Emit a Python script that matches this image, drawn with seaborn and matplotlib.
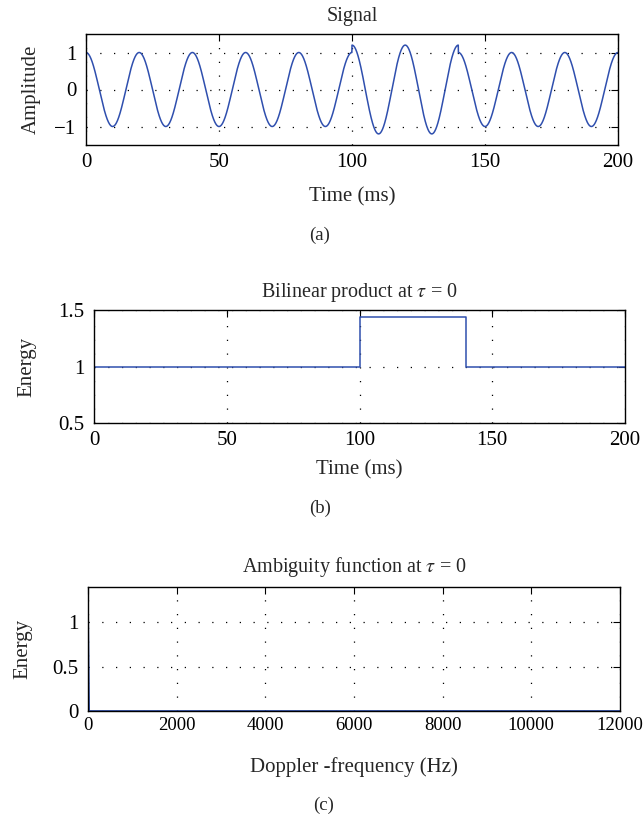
import numpy as np
import pandas as pd
import seaborn as sns
import matplotlib.pyplot as plt

# signal: a cosine of 20 ms period, amplitude per segment
signal_period_ms = 20
segment_edges_ms = [0, 100, 140, 200]
segment_amplitude = [1.0, 1.2, 1.0]

# bilinear product at tau = 0, panel (b)
energy_edges_ms = [0, 100, 140, 200]
energy_values = [1.0, 1.44, 1.0, 1.0]

# ambiguity function at tau = 0, panel (c)
doppler_hz = [0, 25, 12000]
ambiguity_energy = [1.18, 0.0, 0.0]

sns.set_style('white')
plt.rcParams['font.family'] = ['Liberation Serif', 'DejaVu Serif']
plt.rcParams['mathtext.fontset'] = 'stix'

W, H = 644, 817
BLUE = '#2f4fae'
DOT = (0, (1, 10))
FS = 15

fig = plt.figure(figsize=(W / 100, H / 100), dpi=100)


def make_axes(left, right, top, bottom):
    return fig.add_axes([left / W, 1 - bottom / H, (right - left) / W, (bottom - top) / H])


def style(ax, box, title, title_pad, xlabel, ylabel, xlab_y, ylab_x, xpad):
    left, right, top, bottom = box
    for s in ax.spines.values():
        s.set_visible(True)
        s.set_color('black')
        s.set_linewidth(1.0)
    ax.tick_params(direction='in', top=True, right=True, length=5, width=0.8,
                   labelsize=FS, colors='black')
    ax.tick_params(axis='x', pad=xpad)
    ax.tick_params(axis='y', pad=7)
    ax.grid(True, color='black', linestyle=DOT, linewidth=0.9)
    ax.set_title(title, fontsize=FS - 0.5, pad=title_pad)
    ax.set_xlabel(xlabel, fontsize=FS)
    ax.set_ylabel(ylabel, fontsize=FS)
    ax.xaxis.set_label_coords(0.5, (bottom - xlab_y) / (bottom - top))
    ax.xaxis.label.set_va('center')
    ax.yaxis.set_label_coords((ylab_x - left) / (right - left), 0.5)
    ax.yaxis.label.set_va('center')


# (a) signal
t = np.arange(0, 200.001, 0.05)
amp = np.select([t < segment_edges_ms[1], t < segment_edges_ms[2]],
                segment_amplitude[:2], segment_amplitude[2])
sig = pd.DataFrame({'t': t, 'x': amp * np.cos(2 * np.pi * t / signal_period_ms)})

box_a = (86, 618, 34, 145)
ax1 = make_axes(*box_a)
sns.lineplot(data=sig, x='t', y='x', ax=ax1, color=BLUE, linewidth=1.1,
             estimator=None, sort=False)
ax1.set_xlim(0, 200)
ax1.set_ylim(-1.5, 1.5)
ax1.set_xticks([0, 50, 100, 150, 200])
ax1.set_yticks([-1, 0, 1])
ax1.set_yticklabels(['\u22121', '0', '1'])
style(ax1, box_a, 'Signal', 9.5, 'Time (ms)', 'Amplitude', 197, 31, 5.5)

# (b) bilinear product
en = pd.DataFrame({'t': energy_edges_ms, 'e': energy_values})
box_b = (94, 625, 310, 423)
ax2 = make_axes(*box_b)
sns.lineplot(data=en, x='t', y='e', ax=ax2, color=BLUE, linewidth=1.1,
             drawstyle='steps-post', estimator=None, sort=False)
ax2.set_xlim(0, 200)
ax2.set_ylim(0.5, 1.5)
ax2.set_xticks([0, 50, 100, 150, 200])
ax2.set_yticks([0.5, 1, 1.5])
ax2.set_yticklabels(['0.5', '1', '1.5'])
style(ax2, box_b, 'Bilinear product at $\\tau$ = 0', 9, 'Time (ms)', 'Energy',
      470, 27, 5.5)

# (c) ambiguity function
amb = pd.DataFrame({'f': doppler_hz, 'a': ambiguity_energy})
box_c = (88, 620, 587, 711)
ax3 = make_axes(*box_c)
sns.lineplot(data=amb, x='f', y='a', ax=ax3, color=BLUE, linewidth=1.3,
             estimator=None, sort=False)
ax3.set_xlim(0, 12000)
ax3.set_ylim(0, 1.4)
ax3.set_xticks(range(0, 12001, 2000))
ax3.set_yticks([0, 0.5, 1])
ax3.set_yticklabels(['0', '0.5', '1'])
style(ax3, box_c, 'Ambiguity function at $\\tau$ = 0', 11,
      'Doppler -frequency (Hz)', 'Energy', 767, 23, 4)
ax3.tick_params(axis='x', labelsize=13.5)

for lab, x, y in [('(a)', 320, 235), ('(b)', 320, 508), ('(c)', 324, 805)]:
    fig.text(x / W, 1 - y / H, lab, fontsize=13.5, ha='center', va='center')

fig.savefig('out.png', dpi=100)
